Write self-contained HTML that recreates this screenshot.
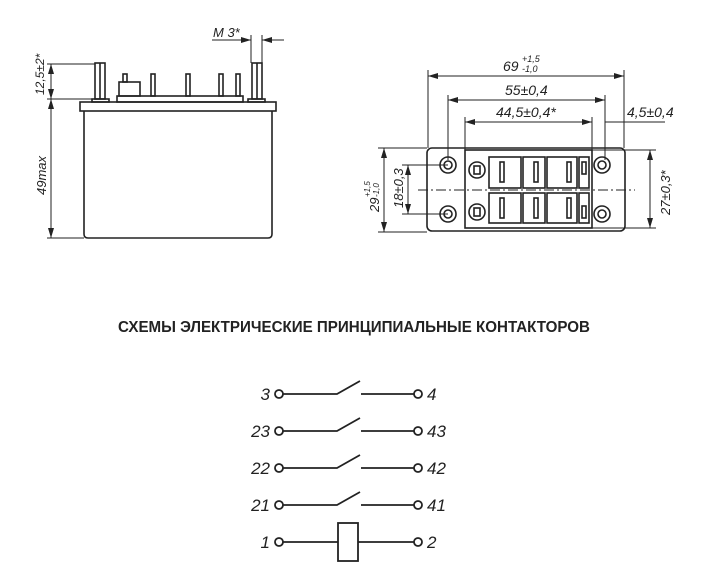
<!DOCTYPE html>
<html><head><meta charset="utf-8"><style>
html,body{margin:0;padding:0;background:#fff;}
svg{display:block}
text{font-family:"Liberation Sans",sans-serif;font-style:italic;fill:#222}
</style></head><body>
<svg width="707" height="587" viewBox="0 0 707 587" xmlns="http://www.w3.org/2000/svg">
<defs>
<marker id="a" viewBox="0 0 10 6" refX="10" refY="3" markerWidth="10" markerHeight="6" orient="auto-start-reverse" markerUnits="userSpaceOnUse"><path d="M0,0L10,3L0,6z" fill="#222"/></marker>
</defs>
<g stroke="#222" fill="none" stroke-width="1.6">
<path d="M84,111 L84,234 Q84,238 88,238 L268,238 Q272,238 272,234 L272,111"/>
<rect x="80" y="102" width="196" height="9"/>
<rect x="117" y="96" width="126" height="6"/>
<rect x="92" y="99" width="17" height="3"/>
<rect x="248" y="99" width="17" height="3"/>
<rect x="95" y="63" width="10" height="36"/>
<line x1="100" y1="63" x2="100" y2="99"/>
<rect x="252" y="63" width="10" height="36"/>
<line x1="257" y1="63" x2="257" y2="99"/>
<rect x="119" y="82" width="21" height="14"/>
<rect x="123" y="74" width="4" height="8"/>
<rect x="151" y="74" width="4" height="22"/>
<rect x="186" y="74" width="4" height="22"/>
<rect x="219" y="74" width="4" height="22"/>
<rect x="236" y="74" width="4" height="22"/>
</g>
<g stroke="#222" fill="none" stroke-width="1">
<line x1="47" y1="64" x2="95" y2="64"/>
<line x1="47" y1="99" x2="92" y2="99"/>
<line x1="47" y1="238" x2="84" y2="238"/>
<line x1="51" y1="64" x2="51" y2="99" marker-start="url(#a)" marker-end="url(#a)"/>
<line x1="51" y1="99" x2="51" y2="238" marker-start="url(#a)" marker-end="url(#a)"/>
<line x1="251" y1="35" x2="251" y2="63"/>
<line x1="262" y1="35" x2="262" y2="63"/>
<line x1="212" y1="40" x2="251" y2="40" marker-end="url(#a)"/>
<line x1="284" y1="40" x2="262" y2="40" marker-end="url(#a)"/>
</g>
<text x="213" y="37" font-size="13">M 3*</text>
<text transform="translate(44,95) rotate(-90)" font-size="12">12,5±2*</text>
<text transform="translate(46,195) rotate(-90)" font-size="13">49max</text>

<g stroke="#222" fill="none" stroke-width="1.6">
<rect x="427" y="148" width="198" height="83" rx="5"/>
<rect x="465" y="150" width="127" height="78"/>
<rect x="489" y="157" width="32" height="31"/><rect x="523" y="157" width="22" height="31"/><rect x="547" y="157" width="30" height="31"/><rect x="579" y="157" width="10" height="31"/>
<rect x="489" y="193" width="32" height="30"/><rect x="523" y="193" width="22" height="30"/><rect x="547" y="193" width="30" height="30"/><rect x="579" y="193" width="10" height="30"/>
<rect x="500" y="162" width="4" height="20"/><rect x="534" y="162" width="4" height="20"/><rect x="567" y="162" width="4" height="20"/><rect x="582" y="162" width="4" height="12"/>
<rect x="500" y="198" width="4" height="20"/><rect x="534" y="198" width="4" height="20"/><rect x="567" y="198" width="4" height="20"/><rect x="582" y="206" width="4" height="12"/>
<circle cx="477" cy="170" r="8"/><circle cx="477" cy="212" r="8"/>
<rect x="474" y="166" width="6" height="8"/><rect x="474" y="208" width="6" height="8"/>
<circle cx="448" cy="165" r="8"/><circle cx="448" cy="165" r="4"/>
<circle cx="448" cy="214" r="8"/><circle cx="448" cy="214" r="4"/>
<circle cx="602" cy="165" r="8"/><circle cx="602" cy="165" r="4"/>
<circle cx="602" cy="214" r="8"/><circle cx="602" cy="214" r="4"/>
</g>
<g stroke="#222" fill="none" stroke-width="1">
<line x1="418" y1="190" x2="635" y2="190" stroke-dasharray="10,3,2,3"/>
<line x1="428" y1="70" x2="428" y2="148"/><line x1="624" y1="70" x2="624" y2="148"/>
<line x1="428" y1="76" x2="624" y2="76" marker-start="url(#a)" marker-end="url(#a)"/>
<line x1="448" y1="95" x2="448" y2="160"/><line x1="605" y1="95" x2="605" y2="160"/>
<line x1="448" y1="100" x2="605" y2="100" marker-start="url(#a)" marker-end="url(#a)"/>
<line x1="465" y1="117" x2="465" y2="150"/><line x1="592" y1="117" x2="592" y2="150"/>
<line x1="465" y1="122" x2="592" y2="122" marker-start="url(#a)" marker-end="url(#a)"/>
<line x1="605" y1="122" x2="665" y2="122"/>
<line x1="378" y1="148" x2="427" y2="148"/><line x1="378" y1="232" x2="427" y2="232"/>
<line x1="384" y1="148" x2="384" y2="232" marker-start="url(#a)" marker-end="url(#a)"/>
<line x1="402" y1="165" x2="448" y2="165"/><line x1="402" y1="214" x2="448" y2="214"/>
<line x1="408" y1="165" x2="408" y2="214" marker-start="url(#a)" marker-end="url(#a)"/>
<line x1="592" y1="150" x2="656" y2="150"/><line x1="592" y1="228" x2="656" y2="228"/>
<line x1="650" y1="150" x2="650" y2="228" marker-start="url(#a)" marker-end="url(#a)"/>
</g>
<text x="503" y="71" font-size="14">69</text>
<text x="522" y="62" font-size="9">+1,5</text>
<text x="522" y="72" font-size="9">-1,0</text>
<text x="505" y="95" font-size="14">55±0,4</text>
<text x="496" y="117" font-size="14">44,5±0,4*</text>
<text x="627" y="117" font-size="14">4,5±0,4</text>
<text transform="translate(379,212) rotate(-90)" font-size="13">29</text>
<text transform="translate(370,197) rotate(-90)" font-size="8">+1,5</text>
<text transform="translate(379,197) rotate(-90)" font-size="8">-1,0</text>
<text transform="translate(403,208) rotate(-90)" font-size="13">18±0,3</text>
<text transform="translate(670,215) rotate(-90)" font-size="13">27±0,3*</text>

<text x="354" y="332" font-size="15.5" font-weight="bold" text-anchor="middle" style="font-style:normal" textLength="472" lengthAdjust="spacingAndGlyphs">СХЕМЫ ЭЛЕКТРИЧЕСКИЕ ПРИНЦИПИАЛЬНЫЕ КОНТАКТОРОВ</text>

<g stroke="#222" fill="none" stroke-width="1.8">
<circle cx="279" cy="394" r="4"/><circle cx="418" cy="394" r="4"/>
<path d="M283,394 L337,394 L360,381 M361,394 L414,394"/>
<circle cx="279" cy="431" r="4"/><circle cx="418" cy="431" r="4"/>
<path d="M283,431 L337,431 L360,418 M361,431 L414,431"/>
<circle cx="279" cy="468" r="4"/><circle cx="418" cy="468" r="4"/>
<path d="M283,468 L337,468 L360,455 M361,468 L414,468"/>
<circle cx="279" cy="505" r="4"/><circle cx="418" cy="505" r="4"/>
<path d="M283,505 L337,505 L360,492 M361,505 L414,505"/>
<circle cx="279" cy="542" r="4"/><circle cx="418" cy="542" r="4"/>
<path d="M283,542 L338,542 M358,542 L414,542"/>
<rect x="338" y="523" width="20" height="38"/>
</g>
<g font-size="17">
<text x="270" y="400" text-anchor="end">3</text><text x="427" y="400">4</text>
<text x="270" y="437" text-anchor="end">23</text><text x="427" y="437">43</text>
<text x="270" y="474" text-anchor="end">22</text><text x="427" y="474">42</text>
<text x="270" y="511" text-anchor="end">21</text><text x="427" y="511">41</text>
<text x="270" y="548" text-anchor="end">1</text><text x="427" y="548">2</text>
</g>
</svg>
</body></html>
